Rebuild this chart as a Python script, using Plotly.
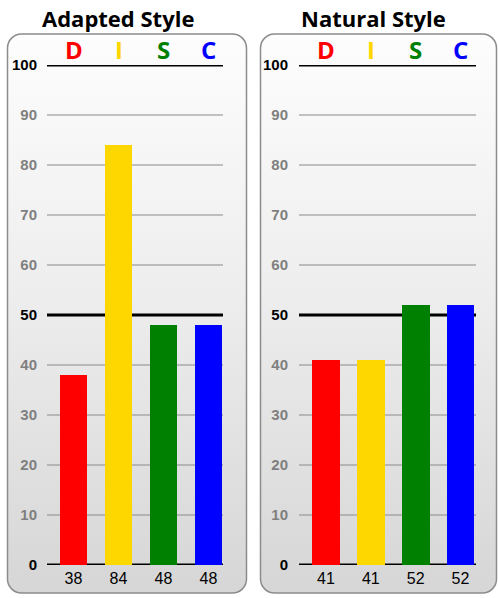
import base64
import plotly.graph_objects as go

# DISC profile scores
categories = ["D", "I", "S", "C"]
adapted_scores = [38, 84, 48, 48]
natural_scores = [41, 41, 52, 52]
panel_titles = ["Adapted Style", "Natural Style"]
disc_colors = ["#ff0000", "#ffd700", "#008000", "#0000ff"]
y_ticks = [0, 10, 20, 30, 40, 50, 60, 70, 80, 90, 100]
major_ticks = [0, 50, 100]

W, H = 498, 598


def px_x(p):
    return p / W


def px_y(p):
    return 1 - p / H


# Rounded panel backgrounds with a soft vertical gradient
svg = f"""<svg xmlns='http://www.w3.org/2000/svg' width='{W}' height='{H}' viewBox='0 0 {W} {H}'>
<defs><linearGradient id='g' x1='0' y1='0' x2='0' y2='1'>
<stop offset='0' stop-color='#fdfdfd'/><stop offset='0.45' stop-color='#eeeeee'/>
<stop offset='1' stop-color='#d6d6d6'/></linearGradient></defs>
<rect x='7.5' y='34' width='239' height='559' rx='14' ry='14' fill='url(#g)' stroke='#8c8c8c' stroke-width='1.5'/>
<rect x='260.5' y='34' width='236' height='559' rx='14' ry='14' fill='url(#g)' stroke='#8c8c8c' stroke-width='1.5'/>
</svg>"""
bg_uri = "data:image/svg+xml;base64," + base64.b64encode(svg.encode()).decode()

fig = go.Figure()

panels = [
    dict(scores=adapted_scores, xd=(47, 223), c0=73.5, step=45.0, xa="x", ya="y", standoff=9),
    dict(scores=natural_scores, xd=(299, 476), c0=326.0, step=44.83, xa="x2", ya="y2", standoff=10),
]

tick_text = [
    f"<b><span style='color:{'#000000' if t in major_ticks else '#7f7f7f'}'>{t}</span></b>"
    for t in y_ticks
]

y_dom = [px_y(565), px_y(65)]

for i, p in enumerate(panels):
    xs = list(range(len(categories)))
    fig.add_trace(go.Bar(
        x=xs, y=p["scores"], width=0.62,
        marker=dict(color=disc_colors, line=dict(width=0)),
        xaxis=p["xa"], yaxis=p["ya"], showlegend=False, hoverinfo="skip",
    ))
    lo = (p["xd"][0] - p["c0"]) / p["step"]
    hi = (p["xd"][1] - p["c0"]) / p["step"]
    suffix = "" if i == 0 else "2"
    fig.update_layout(**{
        f"xaxis{suffix}": dict(
            domain=[px_x(p["xd"][0]), px_x(p["xd"][1])], range=[lo, hi],
            tickvals=xs, ticktext=[str(v) for v in p["scores"]],
            tickfont=dict(family="Liberation Sans", size=16, color="#000000"),
            showgrid=False, zeroline=False, showline=False, ticks="",
            ticklabelstandoff=2, anchor=p["ya"], fixedrange=True, automargin=False,
        ),
        f"yaxis{suffix}": dict(
            domain=y_dom, range=[0, 100], tickvals=y_ticks, ticktext=tick_text,
            tickfont=dict(family="Liberation Sans", size=15),
            showgrid=False, zeroline=False, showline=False, ticks="",
            ticklabelstandoff=p["standoff"],
            anchor=p["xa"], fixedrange=True, automargin=False,
        ),
    })
    # Grid lines, heavier at the major ticks, drawn beneath the bars
    for t in y_ticks:
        major = t in major_ticks
        fig.add_shape(type="line", xref=f"{p['xa']} domain", yref=p["ya"],
                      x0=0, x1=1, y0=t, y1=t, layer="below",
                      line=dict(color="#000000" if major else "#8a8a8a",
                                width=3 if major else 1.2))
    # DISC letters above the chart
    for k, cat in enumerate(categories):
        fig.add_annotation(x=k, y=100, xref=p["xa"], yref=p["ya"],
                           text=f"<b>{cat}</b>", showarrow=False,
                           yanchor="bottom", yshift=-3,
                           font=dict(family="Open Sans", size=24, color=disc_colors[k]))
    # Panel title
    fig.add_annotation(x=px_x(118 if i == 0 else 373), y=px_y(17.5), xref="paper", yref="paper",
                       xanchor="center", yanchor="middle",
                       text=f"<b>{panel_titles[i]}</b>", showarrow=False,
                       font=dict(family="Open Sans", size=22, color="#000000"))

fig.add_layout_image(dict(source=bg_uri, xref="paper", yref="paper", x=0, y=1,
                          sizex=1, sizey=1, sizing="stretch", layer="below",
                          xanchor="left", yanchor="top"))

fig.update_layout(
    width=W, height=H, margin=dict(l=0, r=0, t=0, b=0),
    paper_bgcolor="#ffffff", plot_bgcolor="rgba(0,0,0,0)",
    bargap=0, showlegend=False,
)

fig.write_html("out.html", config={"displayModeBar": False})
